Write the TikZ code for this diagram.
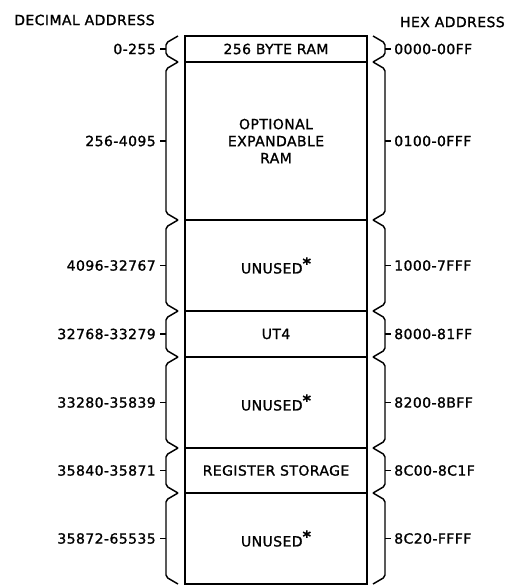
\documentclass[tikz,border=0pt]{standalone}
\usepackage{fontspec}
\setmainfont{DejaVu Sans}[LetterSpace=3, FakeBold=1.2]
\newcommand{\unusedmark}{\raisebox{0.55ex}{\fontsize{12}{12}\selectfont\bfseries*}}

\begin{document}
\begin{tikzpicture}[
    x=0.75pt, y=-0.75pt,
    box/.style={draw, line width=1.5pt},
    brc/.style={line width=1.1pt, rounded corners=1.5pt},
    lbl/.style={inner sep=0pt},
    font=\fontsize{10.5}{12.75}\selectfont
]
    \useasboundingbox (0,0) rectangle (507,586);

    % column headers
    \node[lbl, anchor=west] (dechead) at (14,20) {DECIMAL ADDRESS};
    \node[lbl, anchor=east] (hexhead) at (505,22) {HEX ADDRESS};

    % memory blocks: top / bottom / contents / decimal range / hex range
    \foreach \t/\b/\txt/\dec/\hex [count=\i] in {
        36/62/{256 BYTE RAM}/0-255/0000-00FF,
        62/220/{OPTIONAL\\EXPANDABLE\\RAM}/256-4095/0100-0FFF,
        220/311/{UNUSED\unusedmark}/4096-32767/1000-7FFF,
        311/357/{UT4}/32768-33279/8000-81FF,
        357/448/{UNUSED\unusedmark}/33280-35839/8200-8BFF,
        448/493/{REGISTER STORAGE}/35840-35871/8C00-8C1F,
        493/584/{UNUSED\unusedmark}/35872-65535/8C20-FFFF} {
        \pgfmathsetmacro\m{(\t+\b)/2}
        % block
        \draw[box] (185,\t) rectangle (367,\b);
        \node[lbl, align=center] (blk\i) at (276,\m) {\txt};
        % left brace and decimal range
        \draw[brc] (178,\t) -- (166,\t+7) -- (166,\b-7) -- (178,\b);
        \draw[brc] (166,\m) -- (160,\m);
        \node[lbl, anchor=east] (dec\i) at (156,\m) {\dec};
        % right brace and hex range
        \draw[brc] (373,\t) -- (385,\t+7) -- (385,\b-7) -- (373,\b);
        \draw[brc] (385,\m) -- (391,\m);
        \node[lbl, anchor=west] (hex\i) at (394,\m) {\hex};
    }
\end{tikzpicture}
\end{document}
